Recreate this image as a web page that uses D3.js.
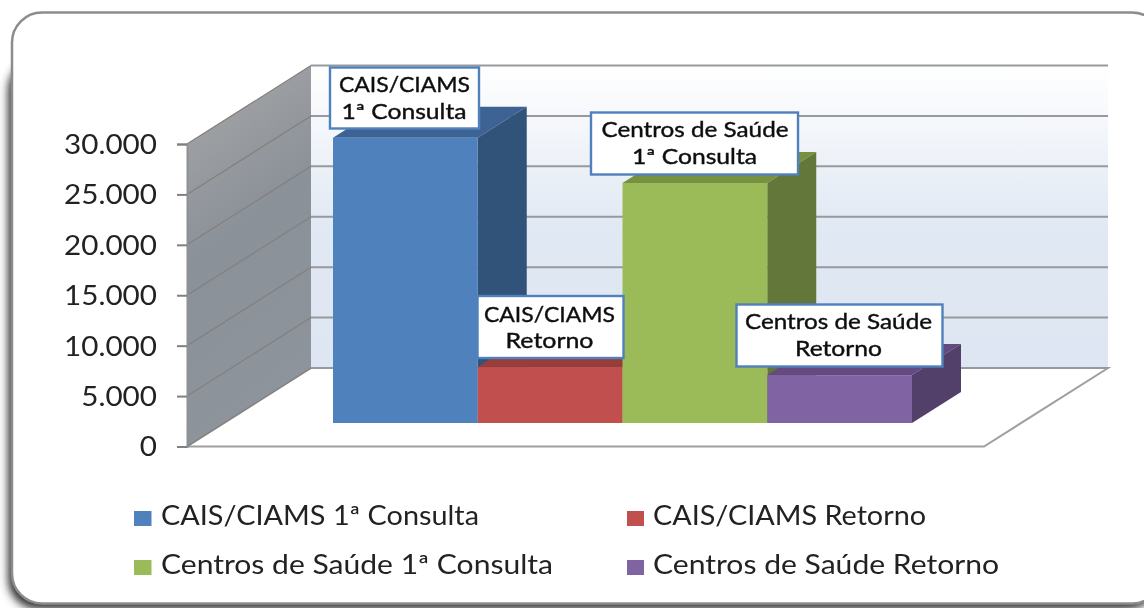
<!DOCTYPE html>
<html>
<head>
<meta charset="utf-8">
<title>Consultas</title>
<script src="https://d3js.org/d3.v7.min.js"></script>
<style>
html, body { margin: 0; padding: 0; background: #fff; overflow: hidden; }
text { font-family: Lato, "Open Sans", sans-serif; }
</style>
</head>
<body>
<svg id="chart" width="1144" height="608"></svg>
<script>
var series = ["CAIS/CIAMS 1ª Consulta", "CAIS/CIAMS Retorno", "Centros de Saúde 1ª Consulta", "Centros de Saúde Retorno"];
var values = [28300, 5550, 23800, 4750];
var labelLines = [["CAIS/CIAMS", "1ª Consulta"], ["CAIS/CIAMS", "Retorno"], ["Centros de Saúde", "1ª Consulta"], ["Centros de Saúde", "Retorno"]];
var tickValues = [0, 5000, 10000, 15000, 20000, 25000, 30000];
var frontColors = ["#4f81bd", "#c0504d", "#9bbb59", "#8064a2"];
var topColors = ["#3c6494", "#973d3b", "#76913f", "#644b82"];
var sideColors = ["#335379", "#7c3331", "#64773a", "#523f6a"];

var svg = d3.select("#chart");
var defs = svg.append("defs");

// soft edge, the reference is an upscaled bitmap
defs.append("filter").attr("id", "soft").append("feGaussianBlur").attr("stdDeviation", 0.6);
var shadow = defs.append("filter").attr("id", "shadow")
  .attr("x", "-5%").attr("y", "-5%").attr("width", "110%").attr("height", "110%");
shadow.append("feGaussianBlur").attr("stdDeviation", 4);

var wallGrad = defs.append("linearGradient").attr("id", "wall")
  .attr("x1", 0).attr("y1", 0).attr("x2", 0).attr("y2", 1);
wallGrad.append("stop").attr("offset", "0%").attr("stop-color", "#ffffff");
wallGrad.append("stop").attr("offset", "55%").attr("stop-color", "#e0e8f3");
wallGrad.append("stop").attr("offset", "100%").attr("stop-color", "#dfe6f3");

var sideGrad = defs.append("linearGradient").attr("id", "sidewall")
  .attr("x1", 0).attr("y1", 0).attr("x2", 0.25).attr("y2", 1);
sideGrad.append("stop").attr("offset", "0%").attr("stop-color", "#a8a8a8");
sideGrad.append("stop").attr("offset", "50%").attr("stop-color", "#8b9199");
sideGrad.append("stop").attr("offset", "100%").attr("stop-color", "#8e949c");

// frame
svg.append("rect").attr("x", 8).attr("y", 60).attr("width", 1150).attr("height", 549)
  .attr("rx", 30).attr("fill", "#333").attr("filter", "url(#shadow)");
svg.append("rect").attr("x", 12).attr("y", 12.5).attr("width", 1150).attr("height", 591)
  .attr("rx", 30).attr("fill", "#fff").attr("stroke", "#8c8c8c").attr("stroke-width", 2.5);

var y = d3.scaleLinear().domain([0, 30000]).range([446.5, 144]);
var x = d3.scaleBand().domain(series).range([333, 912]);
var baseY = 423;
var wallDx = 124, wallDy = 78.5;
var wallLeft = 187, wallRight = 1108;
var barDx = 49, barDy = 31;

var plot = svg.append("g").attr("filter", "url(#soft)");

function poly(pts) {
  return "M" + pts.map(function(p) { return p.join(","); }).join("L") + "Z";
}

// floor
plot.append("path")
  .attr("d", poly([[wallLeft, y(0)], [wallLeft + wallDx, y(0) - wallDy], [wallRight, y(0) - wallDy], [wallRight - wallDx, y(0)]]))
  .attr("fill", "#fff").attr("stroke", "#a0a0a0").attr("stroke-width", 2);

// back wall
plot.append("rect")
  .attr("x", wallLeft + wallDx).attr("width", wallRight - wallLeft - wallDx)
  .attr("y", y(30000) - wallDy).attr("height", y(0) - y(30000))
  .attr("fill", "url(#wall)");

// side wall
plot.append("path")
  .attr("d", poly([[wallLeft, y(0)], [wallLeft, y(30000)], [wallLeft + wallDx, y(30000) - wallDy], [wallLeft + wallDx, y(0) - wallDy]]))
  .attr("fill", "url(#sidewall)");

// gridlines
plot.selectAll(".grid-back").data(tickValues).enter().append("line")
  .attr("class", "grid-back")
  .attr("x1", wallLeft + wallDx).attr("x2", wallRight)
  .attr("y1", function(d) { return y(d) - wallDy; })
  .attr("y2", function(d) { return y(d) - wallDy; })
  .attr("stroke", "#97999c").attr("stroke-width", 2);
plot.selectAll(".grid-side").data(tickValues).enter().append("line")
  .attr("class", "grid-side")
  .attr("x1", wallLeft).attr("x2", wallLeft + wallDx)
  .attr("y1", function(d) { return y(d); })
  .attr("y2", function(d) { return y(d) - wallDy; })
  .attr("stroke", "#857f7b").attr("stroke-width", 1.2);

// value axis
var fmt = d3.formatLocale({ decimal: ",", thousands: ".", grouping: [3], currency: ["", ""] }).format(",d");
var axis = svg.append("g").attr("transform", "translate(" + wallLeft + ",0)")
  .call(d3.axisLeft(y).tickValues(tickValues).tickFormat(fmt).tickSize(10).tickPadding(20));
axis.select(".domain").attr("stroke", "#909090").attr("stroke-width", 2);
axis.selectAll(".tick line").attr("stroke", "#808080").attr("stroke-width", 2);
axis.selectAll("text").attr("font-size", 26).attr("fill", "#222").attr("filter", "url(#soft)")
  .attr("dy", "0.36em")
  .each(function() {
    this.setAttribute("textLength", this.getComputedTextLength() * 1.14);
    this.setAttribute("lengthAdjust", "spacingAndGlyphs");
  });

// bars
var bars = plot.selectAll(".bar").data(series).enter().append("g").attr("class", "bar");
bars.append("path")
  .attr("d", function(d, i) {
    var l = x(d), r = l + x.bandwidth(), t = y(values[i]) - (y(0) - baseY);
    return poly([[l, t], [l + barDx, t - barDy], [r + barDx, t - barDy], [r, t]]);
  })
  .attr("fill", function(d, i) { return topColors[i]; });
bars.append("path")
  .attr("d", function(d, i) {
    var r = x(d) + x.bandwidth(), t = y(values[i]) - (y(0) - baseY);
    return poly([[r, t], [r + barDx, t - barDy], [r + barDx, baseY - barDy], [r, baseY]]);
  })
  .attr("fill", function(d, i) { return sideColors[i]; });
bars.append("rect")
  .attr("x", function(d) { return x(d); })
  .attr("width", x.bandwidth())
  .attr("y", function(d, i) { return y(values[i]) - (y(0) - baseY); })
  .attr("height", function(d, i) { return y(0) - y(values[i]); })
  .attr("fill", function(d, i) { return frontColors[i]; });

// data label boxes, placed by hand like the original
var boxes = [
  { x: 330, y: 67.5, w: 149, h: 61, l1: [339, 131, 92], l2: [341.5, 125, 119] },
  { x: 477.5, y: 296, w: 146, h: 62, l1: [484, 131, 322], l2: [505.5, 88, 348] },
  { x: 591, y: 112.5, w: 207, h: 62, l1: [601.5, 187, 137], l2: [632, 125, 164] },
  { x: 736.5, y: 304.5, w: 206, h: 62, l1: [745, 187, 329], l2: [795, 87, 356] }
];
var labels = svg.selectAll(".label").data(boxes).enter().append("g").attr("class", "label");
labels.append("rect")
  .attr("x", function(d) { return d.x; }).attr("y", function(d) { return d.y; })
  .attr("width", function(d) { return d.w; }).attr("height", function(d) { return d.h; })
  .attr("fill", "#fff").attr("stroke", "#4f81bd").attr("stroke-width", 2.4);
[0, 1].forEach(function(n) {
  labels.append("text")
    .attr("x", function(d) { return n ? d.l2[0] : d.l1[0]; })
    .attr("y", function(d) { return n ? d.l2[2] : d.l1[2]; })
    .attr("textLength", function(d) { return n ? d.l2[1] : d.l1[1]; })
    .attr("lengthAdjust", "spacingAndGlyphs")
    .attr("font-size", 21).attr("fill", "#111")
    .attr("stroke", "#111").attr("stroke-width", 0.4)
    .attr("filter", "url(#soft)")
    .text(function(d, i) { return labelLines[i][n]; });
});

// legend
var legendPos = [[134, 161, 525, 318], [627, 653, 525, 273], [134, 161, 574, 392], [627, 653, 574, 346]];
var legend = svg.selectAll(".legend").data(series).enter().append("g").attr("class", "legend");
legend.append("rect")
  .attr("x", function(d, i) { return legendPos[i][0]; })
  .attr("y", function(d, i) { return legendPos[i][2] - 14; })
  .attr("width", function(d, i) { return i % 2 ? 17 : 17.5; }).attr("height", 15)
  .attr("fill", function(d, i) { return frontColors[i]; });
legend.append("text")
  .attr("x", function(d, i) { return legendPos[i][1]; })
  .attr("y", function(d, i) { return legendPos[i][2]; })
  .attr("textLength", function(d, i) { return legendPos[i][3]; })
  .attr("lengthAdjust", "spacingAndGlyphs")
  .attr("font-size", 26).attr("fill", "#222").attr("filter", "url(#soft)")
  .text(function(d) { return d; });
</script>
</body>
</html>
